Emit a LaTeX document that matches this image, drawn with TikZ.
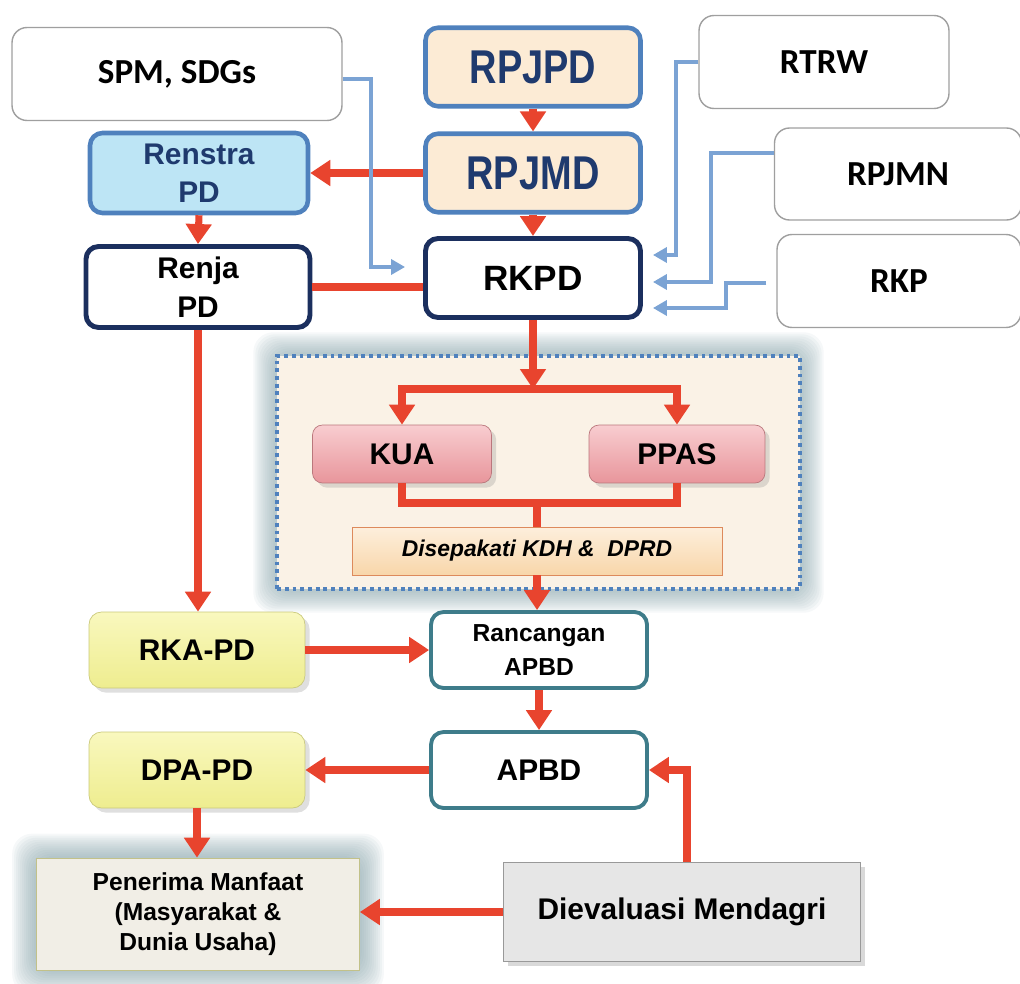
\documentclass[tikz,border=0pt]{standalone}
\usepackage{fontspec}
\setmainfont{Liberation Sans}
\newfontfamily\calfont{Carlito}
\usepackage{tikz}
\usetikzlibrary{positioning,arrows.meta,shadows}
\pgfdeclarelayer{back}
\pgfsetlayers{back,main}

\definecolor{redc}{HTML}{E8442E}
\definecolor{bluec}{HTML}{7BA3D4}
\definecolor{planblue}{HTML}{4F81BD}
\definecolor{navyc}{HTML}{1B2F5E}
\definecolor{navytext}{HTML}{1F3A6E}
\definecolor{tealc}{HTML}{3E7C8A}
\definecolor{beigec}{HTML}{FCEBD5}
\definecolor{skyc}{HTML}{BDE5F5}
\definecolor{framefill}{HTML}{FAF2E6}
\definecolor{glowc}{HTML}{7F9DA4}
\definecolor{pinktop}{HTML}{F8CDD0}
\definecolor{pinkbot}{HTML}{E8959B}
\definecolor{yeltop}{HTML}{F9F8BE}
\definecolor{yelbot}{HTML}{EEED8F}
\definecolor{agreetop}{HTML}{FDEFDC}
\definecolor{agreebot}{HTML}{F8D6AA}
\definecolor{agreeline}{HTML}{DD8A5C}
\definecolor{paperc}{HTML}{F1EEE6}
\definecolor{evalc}{HTML}{E6E6E6}

\tikzset{
  whitebox/.style={rectangle,rounded corners=0.3cm,draw=gray!75,thick,fill=white,align=center,
    font=\calfont\bfseries\fontsize{20}{24}\selectfont},
  planbox/.style={rectangle,rounded corners=0.25cm,draw=planblue,line width=2.6pt,fill=beigec,
    minimum width=4.3cm,minimum height=1.57cm,text=navytext,
    font=\bfseries\fontsize{27}{30}\selectfont},
  navybox/.style={rectangle,rounded corners=0.25cm,draw=navyc,line width=2.8pt,fill=white,align=center},
  pinkbox/.style={rectangle,rounded corners=0.2cm,draw=pinkbot!80!black,thin,top color=pinktop,bottom color=pinkbot,
    drop shadow={opacity=0.25},minimum height=1.16cm,font=\bfseries\fontsize{17}{20}\selectfont},
  yelbox/.style={rectangle,rounded corners=0.25cm,draw=yelbot!85!black,thin,top color=yeltop,bottom color=yelbot,
    drop shadow={opacity=0.25},minimum width=4.32cm,minimum height=1.52cm,font=\bfseries\fontsize{17}{20}\selectfont},
  tealbox/.style={rectangle,rounded corners=0.25cm,draw=tealc,line width=2.2pt,fill=white,align=center,
    minimum width=4.32cm,minimum height=1.52cm},
  redarrow/.style={draw=redc,line width=4pt,-{Triangle[length=0.4cm,width=0.5cm]}},
  redline/.style={draw=redc,line width=4pt},
  bluearrow/.style={draw=bluec,line width=2.3pt,-{Triangle[length=0.28cm,width=0.3cm]}}
}

\begin{document}
\begin{tikzpicture}[x=0.02cm,y=-0.02cm]
  \useasboundingbox (0,0) rectangle (1020,983);

  % top row of plans
  \node (spm) [whitebox,minimum width=6.6cm,minimum height=1.86cm] at (177,74) {SPM, SDGs};
  \node (rpjpd) [planbox] at (533,67) {\scalebox{0.8}[1]{RPJPD}};
  \node (rtrw) [whitebox,minimum width=5cm,minimum height=1.86cm] at (824,62) {RTRW};

  \node (renstra) [rectangle,rounded corners=0.25cm,draw=planblue,line width=2.6pt,fill=skyc,align=center,
    minimum width=4.36cm,minimum height=1.6cm,text=navytext,font=\bfseries\fontsize{17}{21.5}\selectfont]
    at (199,173) {Renstra\\PD};
  \node (rpjmd) [planbox] at (533,173) {\scalebox{0.8}[1]{RPJMD}};
  \node (rpjmn) [whitebox,minimum width=4.94cm,minimum height=1.84cm] at (898,174) {RPJMN};

  \node (renja) [navybox,minimum width=4.48cm,minimum height=1.62cm,font=\bfseries\fontsize{17}{22}\selectfont]
    at (198,287) {Renja\\PD};
  \node (rkpd) [navybox,minimum width=4.3cm,minimum height=1.58cm,font=\bfseries\fontsize{20}{24}\selectfont]
    at (533,278) {RKPD};
  \node (rkp) [whitebox,minimum width=4.88cm,minimum height=1.86cm] at (899,281) {RKP};

  % KUA / PPAS frame
  \node (frame) [rectangle,draw=planblue,line width=2pt,dash pattern=on 2.2pt off 2.2pt,fill=framefill,
    minimum width=10.46cm,minimum height=4.66cm] at (538.5,472.5) {};
  \begin{pgfonlayer}{back}
    \foreach \g in {2,4,...,22}
      \fill[glowc,opacity=0.07,rounded corners=0.4cm] ([shift={(-\g,-\g)}]frame.north west) rectangle ([shift={(\g,\g)}]frame.south east);
  \end{pgfonlayer}

  \node (kua) [pinkbox,minimum width=3.58cm] at (402,454) {KUA};
  \node (ppas) [pinkbox,minimum width=3.52cm] at (677,454) {PPAS};
  \node (agree) [rectangle,draw=agreeline,thin,top color=agreetop,bottom color=agreebot,
    minimum width=7.4cm,minimum height=0.96cm,font=\bfseries\itshape\fontsize{13}{16}\selectfont]
    at (537,551) {Disepakati KDH \&\ \ DPRD};

  % budget documents
  \node (rka) [yelbox] at (197,650) {RKA-PD};
  \node (rapbd) [tealbox,font=\bfseries\fontsize{14}{19}\selectfont] at (539,650) {Rancangan\\APBD};
  \node (dpa) [yelbox] at (197,770) {DPA-PD};
  \node (apbd) [tealbox,font=\bfseries\fontsize{17}{20}\selectfont] at (539,770) {APBD};

  \node (penerima) [rectangle,draw=yelbot!60!gray,thin,fill=paperc,align=center,
    minimum width=6.46cm,minimum height=2.24cm,font=\bfseries\fontsize{14}{17}\selectfont]
    at (198,914) {Penerima Manfaat\\(Masyarakat \&\\Dunia Usaha)};
  \begin{pgfonlayer}{back}
    \foreach \g in {2,4,...,24}
      \fill[glowc,opacity=0.07,rounded corners=0.4cm] ([shift={(-\g,-\g)}]penerima.north west) rectangle ([shift={(\g,\g)}]penerima.south east);
  \end{pgfonlayer}
  \node (eval) [rectangle,draw=gray!80,thick,fill=evalc,drop shadow={opacity=0.3},
    minimum width=7.14cm,minimum height=1.98cm,font=\bfseries\fontsize{17}{20}\selectfont]
    at (682,912) {Dievaluasi Mendagri};

  % red flow
  \draw[redarrow] (rpjpd.south) -- (rpjmd.north);
  \draw[redarrow] (rpjmd.west) -- (renstra.east);
  \draw[redarrow] (rpjmd.south) -- (rkpd.north);
  \draw[redarrow] (renstra.south) -- (renja.north);
  \draw[redline] (renja.east) -- (renja.east -| rkpd.west);

  \coordinate (split) at (rkpd.south |- 0,389);
  \draw[redarrow] (rkpd.south) -- (split);
  \draw[redarrow] (split) -| (kua.north);
  \draw[redarrow] (split) -| (ppas.north);
  \coordinate (join) at (agree.north |- 0,503);
  \draw[redline] (kua.south) |- (join) -| (ppas.south);
  \draw[redline] (join) -- (agree.north);
  \draw[redarrow] (agree.south) -- (agree.south |- rapbd.north);

  \draw[redarrow] (renja.south) -- (renja.south |- rka.north);
  \draw[redarrow] (rka.east) -- (rapbd.west);
  \draw[redarrow] (rapbd.south) -- (apbd.north);
  \draw[redarrow] (apbd.west) -- (dpa.east);
  \draw[redarrow] (dpa.south) -- (dpa.south |- penerima.north);
  \draw[redarrow] (eval.west) -- (eval.west -| penerima.east);
  \draw[redarrow] ([xshift=0.1cm]eval.north) |- (apbd.east);

  % blue inputs to RKPD
  \draw[bluearrow] ([yshift=-0.1cm]spm.east) -- ++(28,0) |- ([shift={(-18,-11)}]rkpd.west);
  \draw[bluearrow] (rtrw.west) -- ++(-22,0) |- ([shift={(10,-23)}]rkpd.east);
  \draw[bluearrow] ([shift={(0,-21)}]rpjmn.west) -- ++(-63,0) |- ([shift={(10,4)}]rkpd.east);
  \draw[bluearrow] ([shift={(-10,2)}]rkp.west) -- ++(-40,0) |- ([shift={(10,30)}]rkpd.east);

\end{tikzpicture}
\end{document}
